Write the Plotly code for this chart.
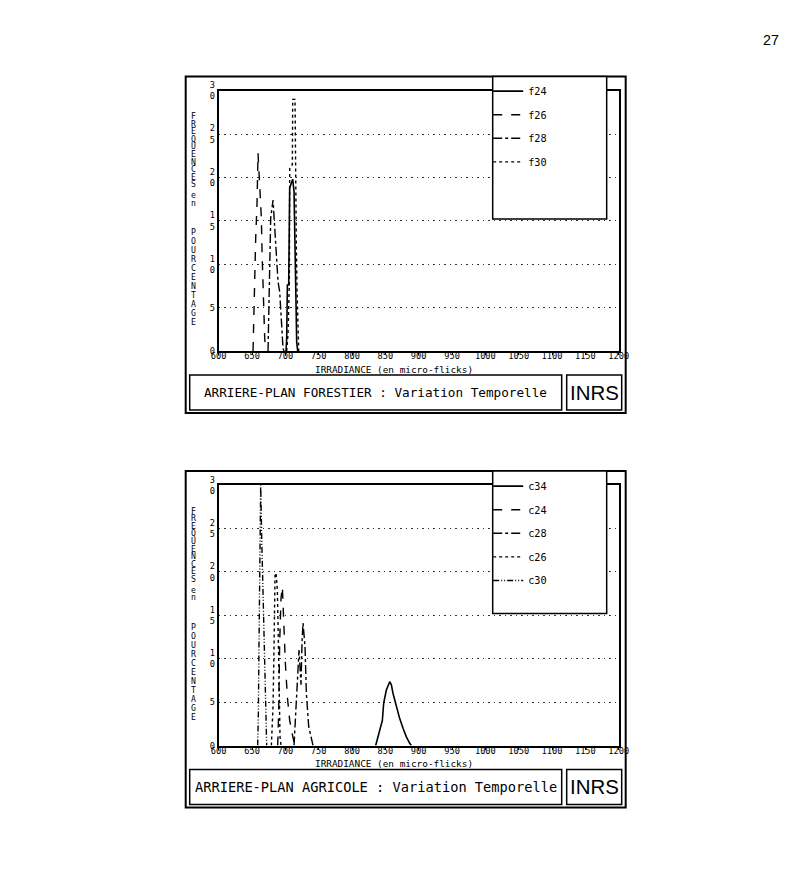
import plotly.graph_objects as go

W, H = 803, 871

# ---------------- data ----------------
irr_ticks = list(range(600, 1201, 50))
irr_ticktext = [str(v) for v in irr_ticks]
freq_ticks = [0, 5, 10, 15, 20, 25, 30]
freq_ticktext = ["0", "5", "1<br>0", "1<br>5", "2<br>0", "2<br>5", "3<br>0"]

# Top chart: ARRIERE-PLAN FORESTIER
f24_x = [701, 702, 703, 705, 706.5, 709, 711, 713, 714.5, 715.5, 717, 718.5]
f24_y = [0, 1.5, 7.6, 7.6, 18.8, 19.5, 19.8, 18.4, 12.2, 7.6, 1.0, 0]
f26_x = [651.5, 653, 655.5, 657.5, 659, 661.5, 664, 665, 666.5, 669, 670.5]
f26_y = [0, 5.7, 13, 17, 22.8, 19.1, 15.3, 11.5, 6.8, 1.5, 0]
f28_x = [674, 676.5, 678, 681.5, 684, 686.5, 689, 691.5, 694, 696.5, 698]
f28_y = [0, 7.6, 15.3, 17.4, 14.2, 10.7, 8.0, 6.8, 3.8, 0.3, 0]
f30_x = [702, 704, 706, 706.5, 710.5, 711, 714.5, 715, 716.5, 717.5, 719, 720]
f30_y = [0, 2, 8, 21, 21.5, 29, 29, 21, 12, 7, 1, 0]

# Bottom chart: ARRIERE-PLAN AGRICOLE
c34_x = [835.5, 841.5, 845.5, 847.5, 851.5, 856.5, 859, 861.5, 866.5, 871.5, 876.5, 881.5, 886.5, 889]
c34_y = [0, 1.8, 2.9, 4.9, 6.4, 7.35, 7.0, 6.0, 4.5, 3.1, 2.0, 1.0, 0.25, 0]
c24_x = [688.5, 690, 691.5, 693.5, 695.5, 698, 700, 703, 706.5, 711.5, 714]
c24_y = [0, 4, 12, 17, 18.3, 13.3, 9.5, 5.6, 2.9, 0.9, 0]
c28_x = [713, 715.5, 718, 720.5, 722, 723.5, 725, 726.5, 729.5, 731.5, 735, 739, 741.5]
c28_y = [0, 3.7, 7.5, 11, 9, 7, 12, 14.1, 11.4, 6, 2.2, 1, 0]
c26_x = [679, 681.5, 683, 684.5, 686, 688, 689.5, 690.5, 692, 693.5]
c26_y = [0, 4.5, 11.4, 19.6, 19.9, 17.9, 12, 5, 1, 0]
c30_x = [658.5, 659.5, 660.5, 661.5, 663, 664.5, 666, 667.5, 669, 670.5, 672]
c30_y = [0, 3.7, 12, 20.6, 30, 24, 19, 14.5, 8.4, 1.4, 0]

top_series = [
    ("f24", f24_x, f24_y, "solid"),
    ("f26", f26_x, f26_y, "dash"),
    ("f28", f28_x, f28_y, "dashdot"),
    ("f30", f30_x, f30_y, "dot"),
]
bottom_series = [
    ("c34", c34_x, c34_y, "solid"),
    ("c24", c24_x, c24_y, "dash"),
    ("c28", c28_x, c28_y, "dashdot"),
    ("c26", c26_x, c26_y, "dot"),
    ("c30", c30_x, c30_y, "6px,2px,1px,2px,1px,2px"),
]

titles = ["ARRIERE-PLAN FORESTIER : Variation Temporelle",
          "ARRIERE-PLAN AGRICOLE : Variation Temporelle"]
xaxis_title = "IRRADIANCE (en micro-flicks)"
yaxis_words = ["FREQUENCES", "en", "POURCENTAGE"]

# ---------------- helpers ----------------
# The photographed page shows the figure slightly inset/scaled; compensate so
# that target pixel positions land where intended.
OX, OY, SX, SY = 8.3, 11.0, 0.9776, 0.9816
FS = 1 / 0.979


def px(x):
    return (x - OX) / SX / W


def py(y):
    return 1 - (y - OY) / SY / H


def f(s):
    return s * FS


MONO = "DejaVu Sans Mono"
TOPS = [76.5, 471.0]          # top edge of each outer frame (target pixels)
LEG_FIRST = [91.0, 486.0]     # centre of first legend entry (target pixels)

fig = go.Figure()

for k, (series, leg) in enumerate([(top_series, "legend"), (bottom_series, "legend2")]):
    xa = "x" if k == 0 else "x2"
    ya = "y" if k == 0 else "y2"
    for name, xs, ys, dash in series:
        fig.add_trace(go.Scatter(
            x=xs, y=ys, mode="lines", name=name,
            line=dict(color="black", width=1.6 if dash == "solid" else 1.4, dash=dash),
            xaxis=xa, yaxis=ya, legend=leg, legendgroup=name,
            hoverinfo="skip",
        ))

shapes = []
annotations = []
axis_common = dict(showline=True, linecolor="black", linewidth=2, mirror=True,
                   zeroline=False)
layout_axes = {}
for k, T in enumerate(TOPS):
    sfx = "" if k == 0 else "2"
    plot_top = T + 14.2
    plot_bot = T + 274.5
    layout_axes["xaxis" + sfx] = dict(
        domain=[px(219), px(619)], range=[600, 1200],
        tickmode="array", tickvals=irr_ticks, ticktext=irr_ticktext,
        ticks="outside", ticklen=2, tickcolor="black", showgrid=False,
        ticklabelstandoff=-6,
        tickfont=dict(family=MONO, size=f(8.5), color="black"),
        anchor="y" + sfx, **axis_common)
    layout_axes["yaxis" + sfx] = dict(
        domain=[py(plot_bot), py(plot_top)], range=[0, 30],
        tickmode="array", tickvals=freq_ticks, ticktext=freq_ticktext,
        ticks="", showgrid=True, griddash="1.5px,4px", gridcolor="#333", gridwidth=1,
        tickfont=dict(family=MONO, size=f(8.5), color="black"),
        anchor="x" + sfx, **axis_common)

    # outer frame
    shapes.append(dict(type="rect", xref="paper", yref="paper",
                       x0=px(186), x1=px(626), y0=py(T + 336.5), y1=py(T),
                       line=dict(color="black", width=2)))
    # title box + INRS box
    shapes.append(dict(type="rect", xref="paper", yref="paper",
                       x0=px(190), x1=px(562), y0=py(T + 333.5), y1=py(T + 298.5),
                       line=dict(color="black", width=1.5)))
    shapes.append(dict(type="rect", xref="paper", yref="paper",
                       x0=px(567), x1=px(622), y0=py(T + 333.5), y1=py(T + 298.5),
                       line=dict(color="black", width=1.5)))
    # legend box (covers top-right of the plot frame)
    shapes.append(dict(type="rect", xref="paper", yref="paper", layer="above",
                       x0=px(493), x1=px(607), y0=py(T + 142.5), y1=py(T),
                       fillcolor="white", line=dict(color="black", width=1.5)))

    annotations.append(dict(text=titles[k], xref="paper", yref="paper",
                            x=px(376), y=py(T + 316), showarrow=False,
                            xanchor="center", yanchor="middle",
                            font=dict(family=MONO, size=f(12.4 if k == 0 else 13.4), color="black")))
    annotations.append(dict(text="INRS", xref="paper", yref="paper",
                            x=px(594.5), y=py(T + 316), showarrow=False,
                            xanchor="center", yanchor="middle",
                            font=dict(family="Liberation Sans", size=f(20), color="black")))
    annotations.append(dict(text=xaxis_title, xref="paper", yref="paper",
                            x=px(394), y=py(T + 292.5), showarrow=False,
                            xanchor="center", yanchor="middle",
                            font=dict(family=MONO, size=f(9.2), color="black")))
    # vertical stacked y-axis title
    starts = [39.5, 118.5, 155.5]
    steps = [7.6, 7.5, 9.0]
    for word, s0, st in zip(yaxis_words, starts, steps):
        for i, ch in enumerate(word):
            annotations.append(dict(text=ch, xref="paper", yref="paper",
                                    x=px(193.5), y=py(T + s0 + i * st), showarrow=False,
                                    xanchor="center", yanchor="middle",
                                    font=dict(family=MONO, size=f(8), color="black")))

annotations.append(dict(text="27", xref="paper", yref="paper", x=px(771), y=py(40),
                        showarrow=False, xanchor="center", yanchor="middle",
                        font=dict(family="Liberation Sans", size=f(14), color="black")))

legend_common = dict(xanchor="left", yanchor="top", bgcolor="rgba(0,0,0,0)",
                     borderwidth=0, traceorder="grouped", tracegroupgap=4.6,
                     font=dict(family=MONO, size=f(10), color="black"))

fig.update_layout(
    width=W, height=H, margin=dict(l=0, r=0, t=0, b=0),
    paper_bgcolor="white", plot_bgcolor="white",
    showlegend=True,
    legend=dict(x=px(488.5), y=py(LEG_FIRST[0] - 14.4), **legend_common),
    legend2=dict(x=px(488.5), y=py(LEG_FIRST[1] - 14.4), **legend_common),
    shapes=shapes, annotations=annotations,
    **layout_axes,
)

fig.write_html("out.html",
               post_script="document.body.style.margin='0';"
                           "document.body.style.overflow='hidden';")
